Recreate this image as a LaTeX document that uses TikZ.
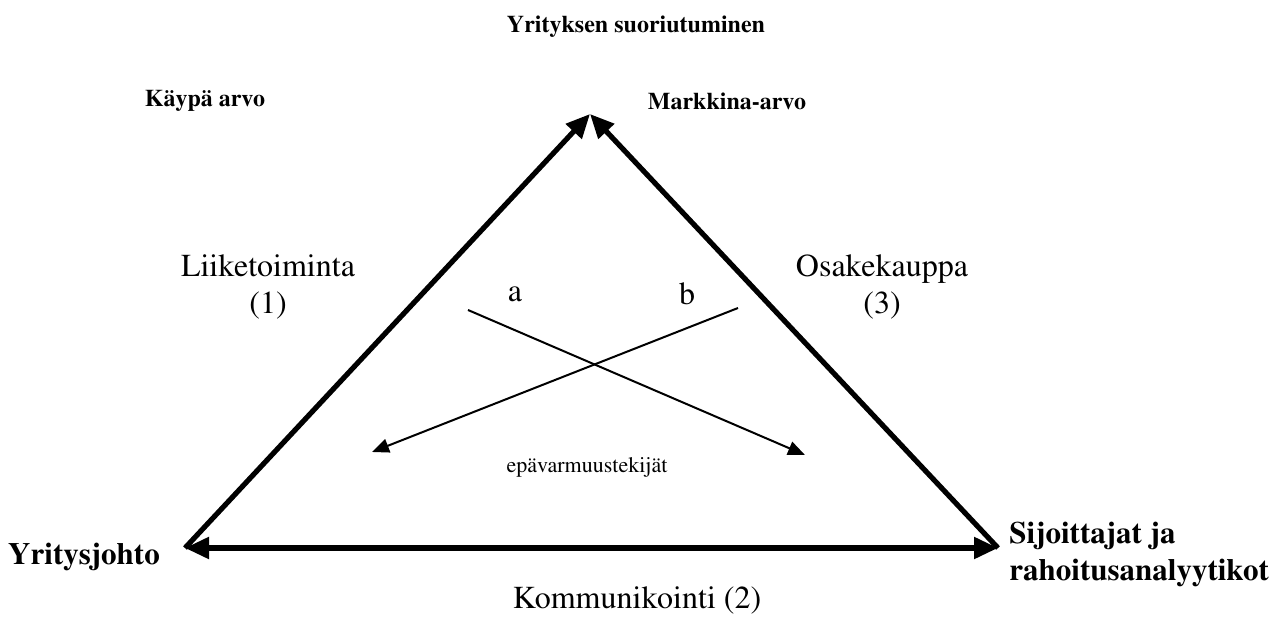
\documentclass[tikz,border=0pt]{standalone}
\usepackage[T1]{fontenc}
\renewcommand{\rmdefault}{ptm}
\usetikzlibrary{arrows.meta}
\begin{document}
\begin{tikzpicture}[x=0.5pt,y=-0.5pt,
  heading/.style={font=\fontsize{12}{14}\selectfont\bfseries, inner sep=0pt},
  corner/.style={font=\fontsize{15.5}{18.5}\selectfont\bfseries, inner sep=0pt, align=left},
  plain/.style={font=\fontsize{16}{18.5}\selectfont, inner sep=0pt, align=center},
  side/.style={line width=2.6pt, -{Triangle[length=12pt,width=10.5pt]}},
  factor/.style={line width=1pt, -{Triangle[length=8.5pt,width=7pt]}}]
\useasboundingbox (0,0) rectangle (1279,619);
% labels
\node[heading] (title) at (636,27) {Yrityksen suoriutuminen};
\node[heading] (fair) at (205,101) {Käypä arvo};
\node[heading] (market) at (727,101) {Markkina-arvo};
\node[corner] (mgmt) at (84,557) {Yritysjohto};
\node[corner, anchor=west] (investors) at (1009,554) {Sijoittajat ja\\rahoitusanalyytikot};
\node[plain] (business) at (268,287) {Liiketoiminta\\(1)};
\node[plain] (trading) at (882,287) {Osakekauppa\\(3)};
\node[plain] (comm) at (637,601) {Kommunikointi (2)};
\node[plain] (a) at (515,294) {a};
\node[plain] (b) at (687,294) {b};
\node[font=\fontsize{11}{13}\selectfont, inner sep=0pt] (risk) at (587,467) {epävarmuustekijät};
% corners of the triangle
\coordinate (left) at (185,548);
\coordinate (right) at (998,548);
\coordinate (top) at (590,114);
\draw[side] (left) -- (top);
\draw[side] (right) -- (top);
\draw[side, {Triangle[length=12pt,width=10.5pt]}-{Triangle[length=12pt,width=10.5pt]}] (left) -- (right);
% uncertainty factors
\coordinate (a0) at (468,310);
\coordinate (a1) at (805,455);
\coordinate (b0) at (738,308);
\coordinate (b1) at (372,452);
\draw[factor] (a0) -- (a1);
\draw[factor] (b0) -- (b1);
\end{tikzpicture}
\end{document}
